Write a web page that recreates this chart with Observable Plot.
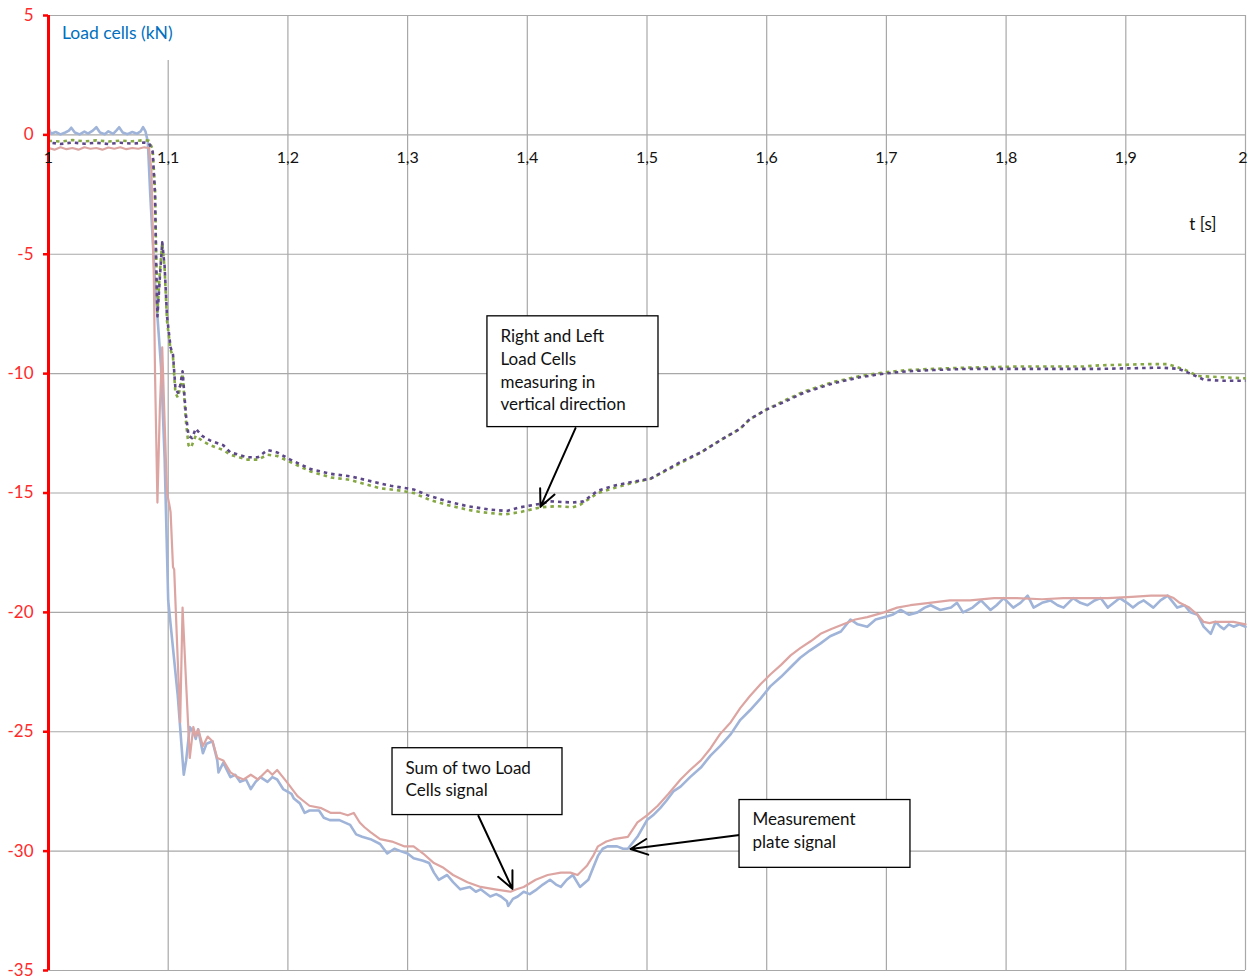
<!DOCTYPE html>
<html>
<head>
<meta charset="utf-8">
<script src="https://cdn.jsdelivr.net/npm/d3@7"></script>
<script src="https://cdn.jsdelivr.net/npm/@observablehq/plot@0.6"></script>
<style>
  html, body { margin: 0; padding: 0; background: #fff; }
  #wrap { position: relative; width: 1248px; height: 979px; }
  #wrap svg { position: absolute; left: 0; top: 0; }
  #ytitle { position: absolute; left: 50px; top: 16px; width: 145px; height: 44px; background: #fff;
            font-family: Lato, "Open Sans", sans-serif; font-size: 17.5px; color: #0070c0;
            box-sizing: border-box; padding: 6px 0 0 12px; }
</style>
</head>
<body>
<div id="wrap"><div id="ytitle">Load cells (kN)</div></div>
<script>
const xTicks = [1, 1.1, 1.2, 1.3, 1.4, 1.5, 1.6, 1.7, 1.8, 1.9, 2];
const xTickLabels = ["1", "1,1", "1,2", "1,3", "1,4", "1,5", "1,6", "1,7", "1,8", "1,9", "2"];
const yTicks = [5, 0, -5, -10, -15, -20, -25, -30, -35];

// Measurement plate signal [t (s), kN]
const plateSignal = [[1.000,0.30],[1.002,0.05],[1.006,0.12],[1.010,0.02],[1.014,0.10],[1.017,0.18],[1.019,0.30],[1.022,0.10],[1.026,0.02],[1.030,0.14],[1.033,0.05],[1.037,0.18],[1.040,0.32],[1.043,0.10],[1.047,0.03],[1.050,0.15],[1.054,0.04],[1.057,0.20],[1.059,0.32],[1.062,0.10],[1.066,0.03],[1.070,0.12],[1.074,0.05],[1.077,0.15],[1.079,0.32],[1.081,0.15],[1.083,-0.30],[1.085,-2.5],[1.089,-6.2],[1.094,-9.7],[1.097,-13.5],[1.099,-17.5],[1.100,-19.5],[1.104,-21.5],[1.108,-23.5],[1.111,-25.5],[1.113,-26.8],[1.115,-26.2],[1.118,-24.8],[1.121,-25.0],[1.123,-25.3],[1.125,-24.9],[1.129,-25.9],[1.132,-25.5],[1.137,-25.4],[1.141,-26.2],[1.142,-26.7],[1.146,-26.3],[1.152,-26.9],[1.156,-26.8],[1.160,-27.1],[1.165,-27.0],[1.169,-27.4],[1.173,-27.1],[1.177,-26.9],[1.183,-27.1],[1.187,-26.9],[1.191,-27.0],[1.196,-27.4],[1.203,-27.6],[1.205,-27.8],[1.210,-28.0],[1.214,-28.4],[1.218,-28.3],[1.226,-28.3],[1.230,-28.6],[1.235,-28.7],[1.243,-28.7],[1.252,-28.9],[1.257,-29.3],[1.262,-29.4],[1.269,-29.5],[1.277,-29.7],[1.283,-30.1],[1.289,-29.9],[1.294,-30.0],[1.300,-30.1],[1.305,-30.3],[1.313,-30.4],[1.318,-30.5],[1.322,-30.9],[1.326,-31.2],[1.333,-31.0],[1.338,-31.3],[1.344,-31.6],[1.352,-31.5],[1.357,-31.7],[1.361,-31.6],[1.369,-31.9],[1.374,-31.8],[1.378,-31.9],[1.383,-32.1],[1.384,-32.3],[1.388,-32.0],[1.392,-31.9],[1.397,-31.7],[1.402,-31.8],[1.408,-31.6],[1.413,-31.4],[1.419,-31.2],[1.424,-31.4],[1.428,-31.5],[1.433,-31.2],[1.438,-31.0],[1.444,-31.5],[1.451,-31.2],[1.455,-30.7],[1.459,-30.2],[1.463,-29.9],[1.467,-29.8],[1.475,-29.8],[1.480,-29.9],[1.484,-29.9],[1.492,-29.4],[1.500,-28.7],[1.505,-28.5],[1.511,-28.2],[1.516,-27.9],[1.522,-27.5],[1.528,-27.3],[1.536,-26.9],[1.545,-26.5],[1.553,-26.0],[1.561,-25.6],[1.570,-25.1],[1.578,-24.5],[1.586,-24.1],[1.595,-23.6],[1.603,-23.1],[1.612,-22.7],[1.620,-22.3],[1.628,-21.9],[1.636,-21.6],[1.645,-21.3],[1.653,-21.0],[1.662,-20.8],[1.670,-20.3],[1.676,-20.5],[1.684,-20.6],[1.691,-20.3],[1.698,-20.2],[1.705,-20.1],[1.712,-19.9],[1.719,-20.1],[1.726,-20.0],[1.732,-19.8],[1.737,-19.7],[1.745,-19.9],[1.754,-19.8],[1.759,-19.6],[1.764,-20.0],[1.772,-19.8],[1.779,-19.5],[1.787,-19.9],[1.792,-19.7],[1.798,-19.4],[1.806,-19.8],[1.812,-19.6],[1.818,-19.3],[1.823,-19.8],[1.830,-19.6],[1.837,-19.5],[1.843,-19.7],[1.848,-19.8],[1.856,-19.4],[1.862,-19.6],[1.868,-19.7],[1.874,-19.5],[1.879,-19.4],[1.885,-19.8],[1.890,-19.6],[1.895,-19.4],[1.901,-19.6],[1.906,-19.8],[1.911,-19.6],[1.915,-19.5],[1.923,-19.8],[1.929,-19.5],[1.935,-19.3],[1.943,-19.8],[1.949,-19.7],[1.954,-20.0],[1.960,-20.1],[1.965,-20.6],[1.971,-20.9],[1.975,-20.4],[1.979,-20.6],[1.982,-20.7],[1.986,-20.5],[1.990,-20.6],[1.995,-20.5],[2.000,-20.6]];

// Sum of two load cells [t (s), kN]
const sumSignal = [[1.000,-0.55],[1.005,-0.62],[1.010,-0.52],[1.015,-0.60],[1.020,-0.55],[1.025,-0.62],[1.030,-0.52],[1.035,-0.58],[1.040,-0.55],[1.045,-0.62],[1.050,-0.53],[1.055,-0.58],[1.060,-0.52],[1.065,-0.60],[1.070,-0.55],[1.075,-0.58],[1.080,-0.52],[1.084,-0.55],[1.086,-1.5],[1.088,-6.0],[1.089,-10.0],[1.091,-15.4],[1.093,-11.5],[1.095,-8.9],[1.097,-12.0],[1.099,-15.0],[1.101,-15.5],[1.102,-15.8],[1.104,-18.1],[1.105,-18.2],[1.110,-24.6],[1.112,-19.8],[1.115,-23.0],[1.118,-26.1],[1.121,-24.8],[1.123,-25.2],[1.125,-24.9],[1.129,-25.6],[1.133,-25.2],[1.137,-25.4],[1.141,-26.1],[1.146,-26.2],[1.152,-26.7],[1.158,-26.9],[1.163,-27.0],[1.169,-26.8],[1.175,-27.0],[1.183,-26.6],[1.187,-26.8],[1.191,-26.6],[1.199,-27.1],[1.208,-27.7],[1.213,-27.9],[1.218,-28.1],[1.228,-28.2],[1.236,-28.4],[1.244,-28.4],[1.250,-28.5],[1.255,-28.4],[1.260,-28.8],[1.264,-29.0],[1.269,-29.2],[1.277,-29.5],[1.287,-29.6],[1.297,-29.8],[1.305,-29.8],[1.313,-30.1],[1.322,-30.5],[1.330,-30.7],[1.338,-31.0],[1.350,-31.3],[1.361,-31.5],[1.373,-31.6],[1.386,-31.7],[1.391,-31.6],[1.397,-31.5],[1.407,-31.2],[1.417,-31.0],[1.428,-30.9],[1.436,-30.9],[1.442,-31.0],[1.450,-30.6],[1.455,-30.2],[1.459,-29.8],[1.466,-29.6],[1.472,-29.5],[1.484,-29.4],[1.492,-28.8],[1.500,-28.5],[1.509,-28.1],[1.518,-27.6],[1.528,-27.0],[1.536,-26.6],[1.545,-26.2],[1.553,-25.7],[1.561,-25.1],[1.570,-24.6],[1.578,-24.0],[1.586,-23.5],[1.595,-23.0],[1.603,-22.6],[1.612,-22.2],[1.620,-21.8],[1.628,-21.5],[1.637,-21.2],[1.645,-20.9],[1.654,-20.7],[1.664,-20.5],[1.674,-20.3],[1.684,-20.2],[1.698,-20.0],[1.709,-19.8],[1.720,-19.7],[1.736,-19.6],[1.753,-19.5],[1.770,-19.5],[1.790,-19.4],[1.809,-19.4],[1.830,-19.45],[1.848,-19.4],[1.865,-19.4],[1.885,-19.4],[1.905,-19.35],[1.921,-19.3],[1.935,-19.3],[1.940,-19.4],[1.945,-19.6],[1.953,-19.8],[1.960,-20.1],[1.965,-20.4],[1.970,-20.45],[1.974,-20.4],[1.982,-20.4],[1.990,-20.4],[2.000,-20.5]];

// Right load cell (vertical) [t (s), kN]
const rightCell = [[1.000,-0.32],[1.010,-0.38],[1.020,-0.32],[1.030,-0.37],[1.040,-0.33],[1.050,-0.38],[1.060,-0.33],[1.070,-0.37],[1.080,-0.32],[1.084,-0.35],[1.087,-0.7],[1.089,-2.5],[1.090,-5.5],[1.091,-7.6],[1.093,-6.0],[1.095,-4.5],[1.097,-5.5],[1.099,-7.6],[1.102,-8.9],[1.104,-9.2],[1.106,-10.6],[1.108,-10.8],[1.110,-10.5],[1.112,-9.9],[1.114,-11.2],[1.115,-11.8],[1.117,-12.6],[1.120,-12.7],[1.123,-12.3],[1.128,-12.6],[1.135,-12.8],[1.146,-13.0],[1.152,-13.3],[1.166,-13.5],[1.175,-13.5],[1.183,-13.2],[1.191,-13.3],[1.202,-13.6],[1.219,-14.0],[1.236,-14.2],[1.252,-14.3],[1.277,-14.6],[1.286,-14.7],[1.305,-14.85],[1.317,-15.1],[1.333,-15.35],[1.350,-15.55],[1.369,-15.7],[1.383,-15.75],[1.394,-15.6],[1.411,-15.45],[1.419,-15.35],[1.438,-15.4],[1.447,-15.35],[1.459,-14.9],[1.472,-14.7],[1.486,-14.55],[1.503,-14.4],[1.528,-13.7],[1.545,-13.3],[1.561,-12.8],[1.578,-12.3],[1.586,-11.9],[1.600,-11.5],[1.614,-11.2],[1.631,-10.8],[1.656,-10.4],[1.678,-10.15],[1.698,-10.0],[1.718,-9.9],[1.739,-9.85],[1.768,-9.8],[1.810,-9.8],[1.865,-9.8],[1.879,-9.8],[1.930,-9.75],[1.944,-9.8],[1.954,-10.0],[1.965,-10.25],[1.980,-10.3],[2.000,-10.3]];

// Left load cell (vertical) [t (s), kN]
const leftCell = [[1.000,-0.25],[1.010,-0.28],[1.020,-0.22],[1.030,-0.27],[1.040,-0.23],[1.050,-0.28],[1.060,-0.24],[1.070,-0.27],[1.080,-0.22],[1.084,-0.25],[1.087,-0.6],[1.089,-2.3],[1.090,-5.2],[1.091,-7.4],[1.093,-5.8],[1.095,-4.5],[1.097,-5.6],[1.099,-7.8],[1.102,-9.0],[1.104,-9.3],[1.106,-10.8],[1.108,-11.0],[1.110,-10.6],[1.112,-10.0],[1.114,-11.4],[1.115,-12.1],[1.117,-13.0],[1.119,-13.1],[1.123,-12.6],[1.128,-12.8],[1.135,-13.0],[1.146,-13.2],[1.152,-13.4],[1.166,-13.6],[1.175,-13.6],[1.183,-13.4],[1.191,-13.45],[1.202,-13.7],[1.219,-14.1],[1.236,-14.35],[1.252,-14.45],[1.277,-14.8],[1.294,-14.9],[1.305,-15.0],[1.319,-15.3],[1.333,-15.5],[1.350,-15.7],[1.361,-15.8],[1.381,-15.9],[1.394,-15.8],[1.411,-15.6],[1.425,-15.55],[1.438,-15.6],[1.444,-15.5],[1.459,-15.0],[1.472,-14.8],[1.486,-14.6],[1.503,-14.4],[1.528,-13.75],[1.545,-13.3],[1.561,-12.8],[1.578,-12.3],[1.586,-11.9],[1.600,-11.5],[1.614,-11.15],[1.631,-10.75],[1.656,-10.35],[1.678,-10.1],[1.698,-9.95],[1.718,-9.85],[1.739,-9.8],[1.768,-9.75],[1.810,-9.7],[1.865,-9.7],[1.879,-9.65],[1.921,-9.6],[1.935,-9.6],[1.950,-9.85],[1.960,-10.1],[1.980,-10.15],[2.000,-10.2]];

// Callout annotations (data coordinates)
const noteText = ["Right and Left\nLoad Cells\nmeasuring in\nvertical direction", "Sum of two Load\nCells signal", "Measurement\nplate signal"];
const noteBoxT = [[1.3667, 1.5096], [1.2874, 1.4294], [1.5773, 1.7201]];
const noteBoxV = [[-7.60, -12.24], [-25.69, -28.49], [-27.86, -30.70]];
const noteArrowFrom = [[1.4403, -12.28], [1.3592, -28.53], [1.5773, -29.32]];
const noteArrowTo = [[1.4110, -15.58], [1.3876, -31.58], [1.4862, -29.91]];

const notes = noteText.map((text, i) => ({
  text, t1: noteBoxT[i][0], t2: noteBoxT[i][1], v1: noteBoxV[i][0], v2: noteBoxV[i][1],
  ax1: noteArrowFrom[i][0], ay1: noteArrowFrom[i][1], ax2: noteArrowTo[i][0], ay2: noteArrowTo[i][1]
}));

const innerTicks = xTicks.slice(0, -1);
const lastTick = xTicks.slice(-1);

const font = "Lato, 'Open Sans', sans-serif";
const gridColor = "#a8a8a8";

const chart = Plot.plot({
  width: 1248,
  height: 979,
  marginLeft: 48,
  marginRight: 3,
  marginTop: 15,
  marginBottom: 9,
  style: { fontFamily: font, background: "#fff" },
  x: { domain: [1, 2], axis: null },
  y: { domain: [-35, 5] },
  marks: [
    Plot.gridX(xTicks, { stroke: gridColor, strokeOpacity: 1, strokeWidth: 1.2 }),
    Plot.gridY(yTicks, { stroke: gridColor, strokeOpacity: 1, strokeWidth: 1.2 }),
    Plot.line(plateSignal, { x: d => d[0], y: d => d[1], stroke: "#9fb4d8", strokeWidth: 2.6 }),
    Plot.line(sumSignal, { x: d => d[0], y: d => d[1], stroke: "#dca5a2", strokeWidth: 2.2 }),
    Plot.line(leftCell, { x: d => d[0], y: d => d[1], stroke: "#86a844", strokeWidth: 2.6, strokeDasharray: "3.5,4", strokeLinecap: "butt" }),
    Plot.line(rightCell, { x: d => d[0], y: d => d[1], stroke: "#5c4889", strokeWidth: 2.6, strokeDasharray: "3.5,4", strokeDashoffset: 3.5, strokeLinecap: "butt" }),
    Plot.ruleX([1], { stroke: "#ff0000", strokeWidth: 3 }),
    Plot.axisY(yTicks, { color: "#ff0000", stroke: "#ff0000", fill: "#ff2a2a", tickSize: 5, tickPadding: 10, strokeWidth: 2.5, fontSize: 17, label: null, tickFormat: d => String(d) }),
    Plot.text(innerTicks, { x: d => d, y: 0, dy: 23, text: (d, i) => xTickLabels[i], fontSize: 16, fill: "#111" }),
    Plot.text(lastTick, { x: d => d, y: 0, dy: 23, dx: 2, text: () => xTickLabels[xTickLabels.length - 1], textAnchor: "end", fontSize: 16, fill: "#111" }),
    Plot.text(["t [s]"], { frameAnchor: "top-right", dx: -29, dy: 202, text: d => d, textAnchor: "end", fontSize: 17, fill: "#111" }),
    Plot.arrow(notes, { x1: "ax1", y1: "ay1", x2: "ax2", y2: "ay2", stroke: "#000", strokeWidth: 2, headLength: 14, headAngle: 50 }),
    Plot.rect(notes, { x1: "t1", x2: "t2", y1: "v1", y2: "v2", fill: "#fff", stroke: "#000", strokeWidth: 1.3 }),
    Plot.text(notes, { x: "t1", y: "v1", text: "text", dx: 13, dy: 9, lineAnchor: "top", textAnchor: "start", lineHeight: 1.35, fontSize: 17, fill: "#111" })
  ]
});

document.getElementById("wrap").prepend(chart);
</script>
</body>
</html>
